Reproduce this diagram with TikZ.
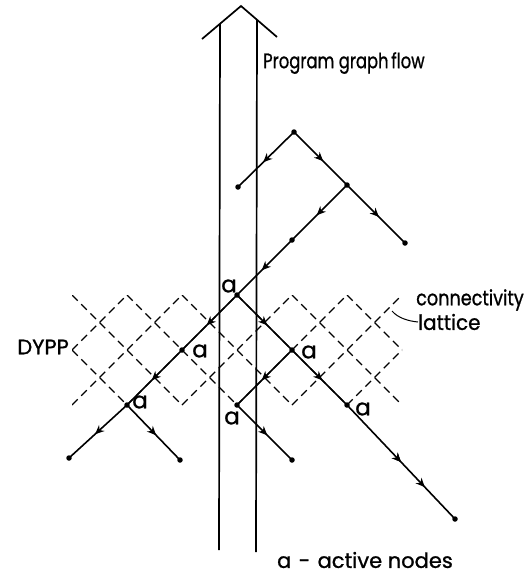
\documentclass[tikz,border=0pt]{standalone}
\usepackage{graphicx}
\usepackage{fontspec}
\setmainfont{Poppins}[FakeBold=1]
\usetikzlibrary{arrows.meta,decorations.markings}
\tikzset{
  pt/.style={circle,fill=black,inner sep=0pt,minimum size=5.5pt},
  flow/.style={line width=1.6pt,postaction={decorate},
    decoration={markings,mark=at position #1 with {\arrow{Stealth[length=9pt,width=8pt]}}}},
  flow/.default=0.55,
  lat/.style={line width=1.1pt,dash pattern=on 8pt off 5pt},
  shaft/.style={line width=1.7pt},
  lbl/.style={inner sep=0pt,font=\fontsize{21}{22}\selectfont},
  albl/.style={inner sep=0pt,font=\fontsize{23}{23}\selectfont}
}
\begin{document}
\begin{tikzpicture}[x=1pt,y=-1pt]
\useasboundingbox (0,0) rectangle (529,576);
% connectivity lattice
\begin{scope}
  \clip (72,295) rectangle (402,405);
  \foreach \k in {1,...,7}{
    \pgfmathsetmacro{\u}{367+55*\k}
    \draw[lat] (\u-405,405) -- (\u-295,295);
  }
  \foreach \j in {-1,...,5}{
    \pgfmathsetmacro{\v}{-223+55*\j}
    \draw[lat] (\v+295,295) -- (\v+405,405);
  }
\end{scope}
% program graph flow arrow
\coordinate (apex) at (241,6);
\coordinate (hl) at (202,39);
\coordinate (hr) at (277,37);
\coordinate (lt) at (220,23.8);
\coordinate (lb) at (219,550);
\coordinate (rt) at (257,19.8);
\coordinate (rb) at (256,552);
\draw[shaft] (hl) -- (apex) -- (hr);
\draw[shaft] (lt) -- (lb);
\draw[shaft] (rt) -- (rb);
% graph nodes
\node[pt] (A) at (294,132) {};
\node[pt] (B) at (238,187) {};
\node[pt] (C) at (347,185) {};
\node[pt] (D) at (405,243) {};
\node[pt] (E) at (292,240) {};
\node[pt] (F) at (237,295) {};
\node[pt] (G) at (182,350) {};
\node[pt] (I) at (127,405) {};
\node[pt] (J) at (69,458) {};
\node[pt] (K) at (180,460) {};
\node[pt] (L) at (292,350) {};
\node[pt] (M) at (347,405) {};
\node[pt] (N) at (455,519) {};
\node[pt] (P) at (237,405) {};
\node[pt] (Q) at (292,460) {};
\draw[flow] (A.center) -- (B.center);
\draw[flow] (A.center) -- (C.center);
\draw[flow] (C.center) -- (D.center);
\draw[flow] (C.center) -- (E.center);
\draw[flow] (E.center) -- (F.center);
\draw[flow] (F.center) -- (G.center);
\draw[flow=0.55] (G.center) -- (I.center);
\draw[flow] (I.center) -- (J.center);
\draw[flow] (I.center) -- (K.center);
\draw[flow] (F.center) -- (L.center);
\draw[flow] (L.center) -- (M.center);
\draw[flow=0.5,postaction={decorate,decoration={markings,mark=at position 0.72 with {\arrow{Stealth[length=9pt,width=8pt]}}}}] (M.center) -- (N.center);
\draw[flow] (L.center) -- (P.center);
\draw[flow] (P.center) -- (Q.center);
% active labels
\node[albl] (aF) at (229,286) {a};
\node[albl] (aG) at (200,351) {a};
\node[albl] (aI) at (140,402) {a};
\node[albl] (aL) at (309,352) {a};
\node[albl] (aM) at (363,409) {a};
\node[albl] (aP) at (232,418) {a};
% texts
\node[lbl,anchor=west] (prog) at (263,63) {\scalebox{0.78}[1]{Program graph\,flow}};
\node[lbl,anchor=west] (conn) at (416,300) {\scalebox{0.84}[1]{connectivity}};
\node[lbl,anchor=west] (latt) at (418,322) {\scalebox{0.95}[1]{lattice}};
\node[lbl,anchor=east] (dypp) at (69,347) {DYPP};
\node[lbl] (act) at (365,560) {a\hspace{0.35em}-\hspace{0.35em}active nodes};
\coordinate (lead) at (392,311);
\draw[line width=1pt] (lead) .. controls (398,318) and (408,321) .. (latt.west);
\end{tikzpicture}
\end{document}
